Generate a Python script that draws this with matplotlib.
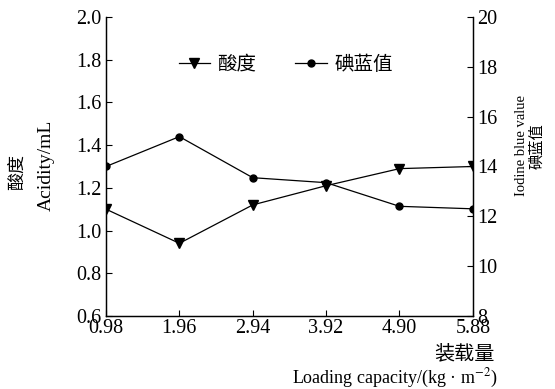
import matplotlib
matplotlib.use("Agg")
import matplotlib.pyplot as plt

plt.rcParams['font.family'] = ['Liberation Serif', 'Noto Sans CJK SC', 'DejaVu Sans']
plt.rcParams['mathtext.fontset'] = 'stix'
plt.rcParams['font.size'] = 14.5

loading = ["0.98", "1.96", "2.94", "3.92", "4.90", "5.88"]
acidity = [1.10, 0.94, 1.12, 1.21, 1.29, 1.30]
iodine_blue = [14.0, 15.2, 13.55, 13.35, 12.4, 12.3]

fig = plt.figure(figsize=(5.55, 3.89), dpi=100)
ax = fig.add_axes([0.191, 0.188, 0.661, 0.768])
ax2 = ax.twinx()

xs = range(len(loading))
l1, = ax.plot(xs, acidity, 'k-', marker='v', markersize=7, linewidth=0.9, label='酸度')
l2, = ax2.plot(xs, iodine_blue, 'k-', marker='o', markersize=5, linewidth=0.9, label='碘蓝值')

ax.set_xlim(0, len(loading) - 1)
ax.set_xticks(list(xs))
ax.set_xticklabels(loading)
ax.set_ylim(0.6, 2.0)
ax.set_yticks([0.6, 0.8, 1.0, 1.2, 1.4, 1.6, 1.8, 2.0])
ax.set_yticklabels(["0.6", "0.8", "1.0", "1.2", "1.4", "1.6", "1.8", "2.0"])
ax2.set_ylim(8, 20)
ax2.set_yticks([8, 10, 12, 14, 16, 18, 20])

for a in (ax, ax2):
    a.spines['top'].set_visible(False)
    a.tick_params(direction='in', length=4, width=0.8, pad=3)
    for s in a.spines.values():
        s.set_linewidth(0.9)
ax.tick_params(axis='x', pad=2.5)

# axis titles, two lines each
fig.text(0.032, 0.558, '酸度', rotation=90, ha='center', va='center', fontsize=13)
fig.text(0.083, 0.576, 'Acidity/mL', rotation=90, ha='center', va='center', fontsize=14)
fig.text(0.939, 0.625, 'Iodine blue value', rotation=90, ha='center', va='center', fontsize=10.5)
fig.text(0.968, 0.625, '碘蓝值', rotation=90, ha='center', va='center', fontsize=11)
fig.text(0.892, 0.088, '装载量', ha='right', va='center', fontsize=14.5)
fig.text(0.896, 0.028, 'Loading capacity/(kg · m$^{-2}$)', ha='right', va='center', fontsize=13)

ax.legend(handles=[l1, l2], loc='upper center', bbox_to_anchor=(0.49, 0.93), ncol=2,
          frameon=False, handlelength=1.6, handletextpad=0.4, columnspacing=2.0,
          fontsize=14)

fig.savefig("out.png", dpi=100)
